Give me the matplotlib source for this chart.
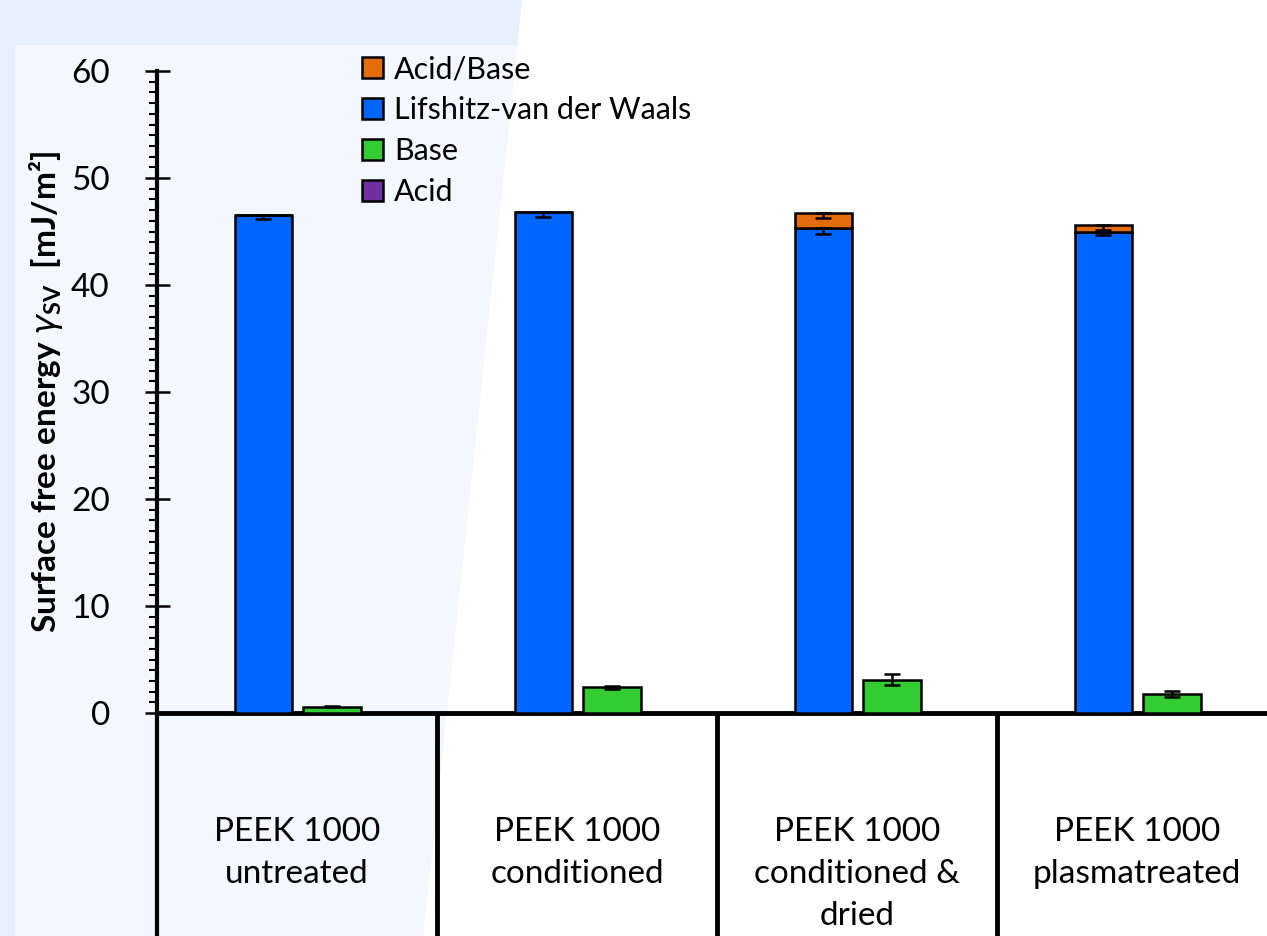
import matplotlib.pyplot as plt
from matplotlib.patches import Patch, Polygon
from matplotlib.ticker import MultipleLocator

plt.rcParams['font.family'] = ['Lato', 'DejaVu Sans']

categories = ["PEEK 1000\nuntreated", "PEEK 1000\nconditioned",
              "PEEK 1000\nconditioned &\ndried", "PEEK 1000\nplasmatreated"]
lw = [46.5, 46.8, 45.3, 45.0]
lw_err = [0.3, 0.4, 0.5, 0.3]
ab = [0.0, 0.0, 1.4, 0.6]
ab_err = [0.0, 0.0, 0.4, 0.5]
base = [0.6, 2.4, 3.1, 1.8]
base_err = [0.05, 0.15, 0.5, 0.3]
acid = [0.0, 0.0, 0.0, 0.0]

c_ab = "#e46c0a"
c_lw = "#0066ff"
c_base = "#33cc33"
c_acid = "#7030a0"

W, H = 1267, 936
fig = plt.figure(figsize=(W / 100, H / 100), dpi=100)

# slide background shapes
fig.patches.append(Polygon([(0, 1), (522 / W, 1), (423 / W, 0), (0, 0)],
                           closed=True, transform=fig.transFigure,
                           facecolor="#e5f0fc", edgecolor="none", zorder=-10))
fig.patches.append(Polygon([(15 / W, 1 - 45 / H), (517 / W, 1 - 45 / H), (423 / W, 0), (15 / W, 0)],
                           closed=True, transform=fig.transFigure,
                           facecolor="#f3f8fe", edgecolor="none", zorder=-9))

ax = fig.add_axes([157 / W, 1 - 713 / H, 1120 / W, (713 - 71) / H])
ax.patch.set_alpha(0)

x = list(range(len(categories)))
xb = [i - 0.12 for i in x]
xg = [i + 0.125 for i in x]
bw = 0.205
ekw = dict(linewidth=1.8, edgecolor="black")

ax.bar(xb, lw, bw, color=c_lw, **ekw, zorder=3)
ax.bar(xb, ab, bw, bottom=lw, color=c_ab, **ekw, zorder=3)
ax.bar(xg, base, bw, color=c_base, **ekw, zorder=3)

# error bars (minus only for stacked parts)
ax.errorbar(xb, lw, yerr=[lw_err, [0] * 4], fmt="none", ecolor="black",
            elinewidth=1.8, capsize=6, capthick=1.8, zorder=4)
tops = [a + b for a, b in zip(lw, ab)]
ax.errorbar([xb[i] for i in (2, 3)], [tops[i] for i in (2, 3)],
            yerr=[[ab_err[i] for i in (2, 3)], [0, 0]], fmt="none", ecolor="black",
            elinewidth=1.8, capsize=6, capthick=1.8, zorder=4)
ax.errorbar(xg, base, yerr=base_err, fmt="none", ecolor="black",
            elinewidth=1.8, capsize=6, capthick=1.8, zorder=4)

ax.set_xlim(-0.5, 3.5)
ax.set_ylim(0, 60)

for s in ("top", "right"):
    ax.spines[s].set_visible(False)
ax.spines["left"].set_linewidth(3)
ax.spines["bottom"].set_linewidth(3.5)

# category separators under the axis
for xv in (-0.5, 0.5, 1.5, 2.5):
    ax.plot([xv, xv], [0, -25], color="black", lw=3.5 if xv > -0.5 else 3,
            clip_on=False, zorder=5, solid_capstyle="butt")

ax.yaxis.set_major_locator(MultipleLocator(10))
ax.yaxis.set_minor_locator(MultipleLocator(1))
ax.tick_params(axis="y", which="major", direction="inout", length=18, width=1.8,
               labelsize=24, pad=25)
ax.tick_params(axis="y", which="minor", direction="out", length=6, width=1.5)

ax.set_xticks(x, categories, linespacing=1.5)
ax.tick_params(axis="x", length=0, labelsize=24, pad=75)

ax.set_ylabel(r"Surface free energy $\gamma_{\mathregular{SV}}$  [mJ/m²]",
              fontsize=24, fontweight="bold")
ax.yaxis.set_label_coords(-0.082, 0.5)

handles = [Patch(facecolor=c_ab, edgecolor="black", linewidth=1.8, label="Acid/Base"),
           Patch(facecolor=c_lw, edgecolor="black", linewidth=1.8, label="Lifshitz-van der Waals"),
           Patch(facecolor=c_base, edgecolor="black", linewidth=1.8, label="Base"),
           Patch(facecolor=c_acid, edgecolor="black", linewidth=1.8, label="Acid")]
fig.legend(handles=handles, loc="upper left", bbox_to_anchor=(362 / W, 1 - 55 / H),
           frameon=False, fontsize=22, handlelength=0.7, handleheight=0.7,
           handletextpad=0.35, labelspacing=0.43, borderpad=0, borderaxespad=0)

fig.savefig("out.png", dpi=100)
